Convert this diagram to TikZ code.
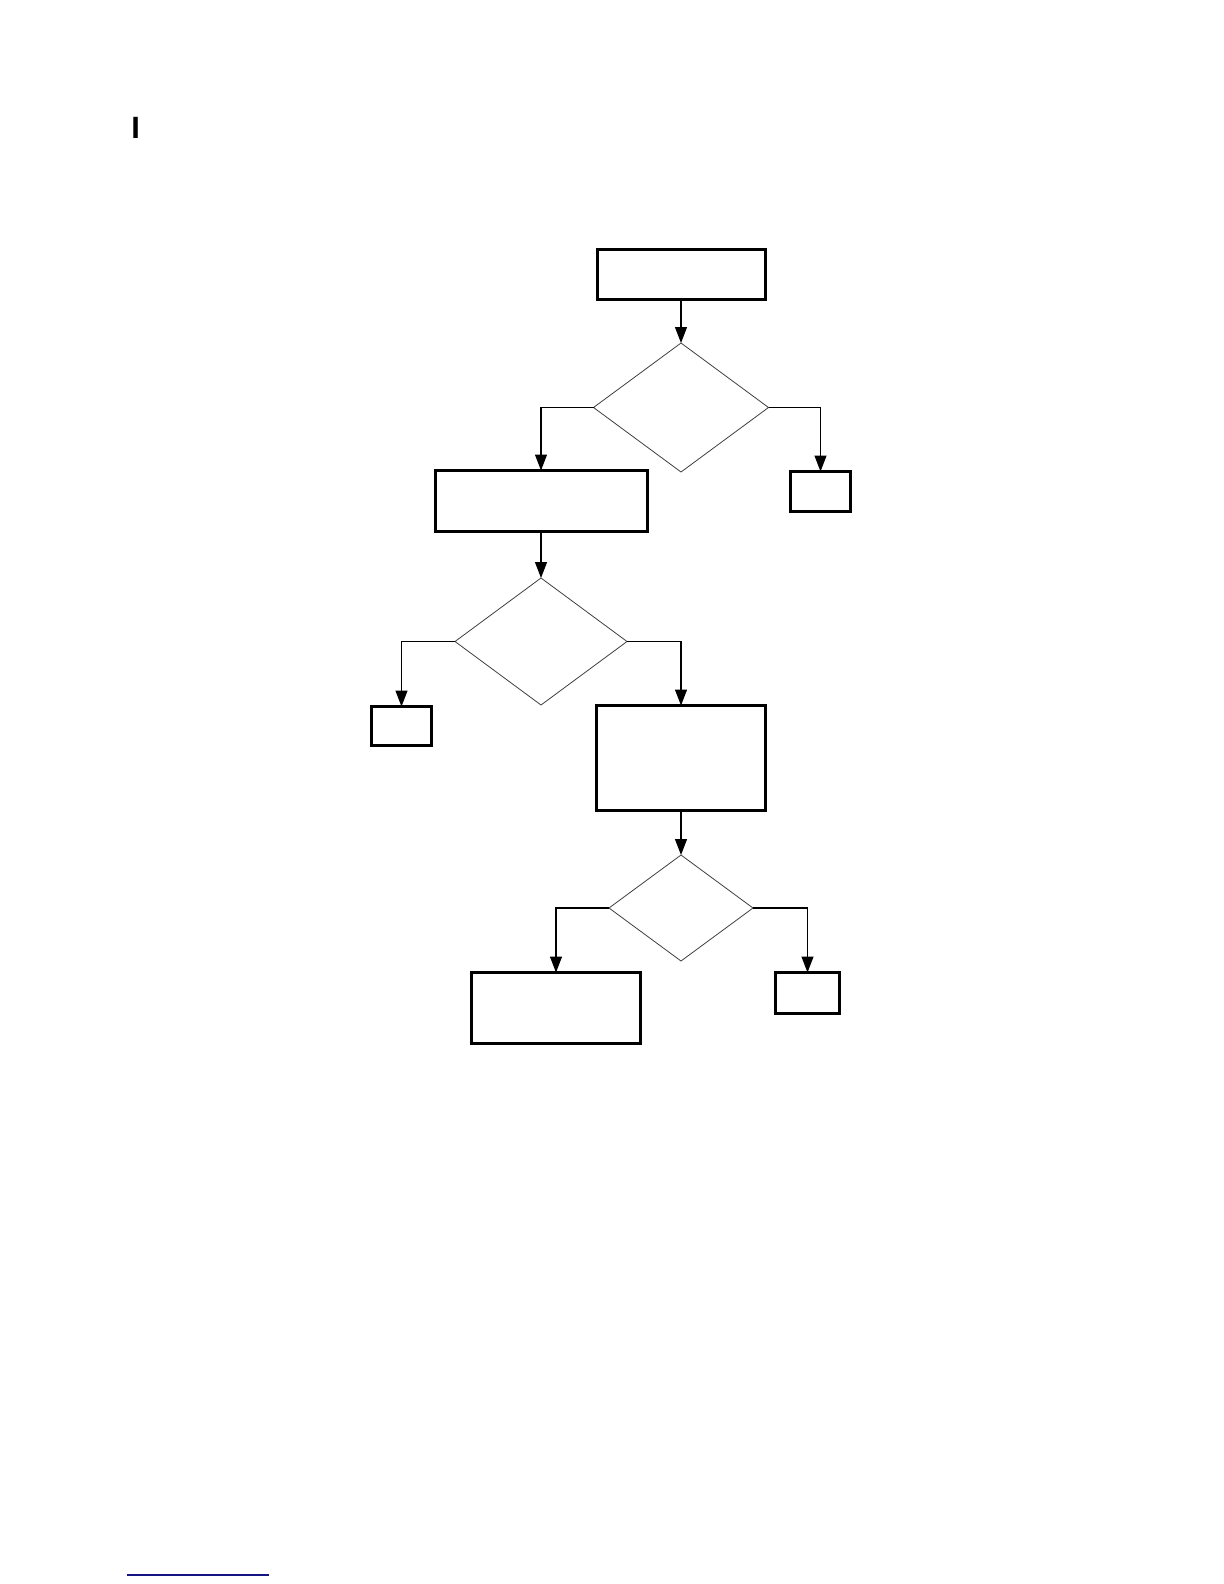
\documentclass[tikz,border=0pt]{standalone}
\usepackage{fontspec}
\setmainfont{Liberation Sans}
\usetikzlibrary{shapes.geometric,arrows.meta}
\begin{document}
\begin{tikzpicture}[x=0.5pt,y=-0.5pt,
  box/.style={draw=black,line width=1.5pt,rectangle,inner sep=0pt,outer sep=0pt,fill=white},
  dec/.style={draw=black!75,line width=0.4pt,diamond,inner sep=0pt,outer sep=0pt},
  conn/.style={draw=black,line width=0.6pt,-{Triangle[width=6pt,length=8pt]}}]
\useasboundingbox[fill=white] (0,0) rectangle (1224,1584);
\node[anchor=base west,inner sep=0pt,font=\fontsize{15.4}{18}\selectfont\bfseries] (mark) at (131,139) {I};
\node[box,minimum width=84pt,minimum height=25pt] (b1) at (681,274.5) {};
\node[dec,minimum width=87.5pt,minimum height=64.5pt] (d1) at (681,407.5) {};
\node[box,minimum width=106pt,minimum height=30.5pt] (b2) at (541,501) {};
\node[box,minimum width=30pt,minimum height=20pt] (b3) at (820.5,491.5) {};
\node[dec,minimum width=86pt,minimum height=63.5pt] (d2) at (541,641.5) {};
\node[box,minimum width=30pt,minimum height=19.5pt] (b6) at (401.5,726) {};
\node[box,minimum width=84.5pt,minimum height=52.5pt] (b4) at (681,758) {};
\node[dec,minimum width=72pt,minimum height=53pt] (d3) at (681,908) {};
\node[box,minimum width=84.5pt,minimum height=35.5pt] (b5) at (556,1008) {};
\node[box,minimum width=32pt,minimum height=20.5pt] (b7) at (807.5,993) {};
\draw[conn] (b1.south) -- (d1.north);
\draw[conn] (d1.west) -| (b2.north);
\draw[conn] (d1.east) -| (b3.north);
\draw[conn] (b2.south) -- (d2.north);
\draw[conn] (d2.west) -| (b6.north);
\draw[conn] (d2.east) -| (b4.north);
\draw[conn] (b4.south) -- (d3.north);
\draw[conn] (d3.west) -| (b5.north);
\draw[conn] (d3.east) -| (b7.north);
\coordinate (r1) at (127,1575);
\coordinate (r2) at (269,1575);
\draw[line width=0.7pt,draw={rgb,255:red,20;green,20;blue,130}] (r1) -- (r2);
\end{tikzpicture}
\end{document}
